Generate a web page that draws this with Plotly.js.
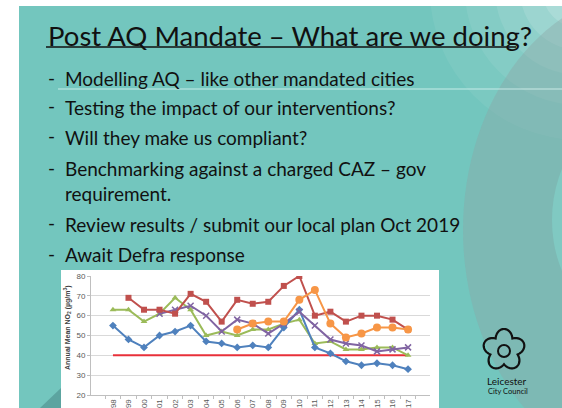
<!DOCTYPE html>
<html><head><meta charset="utf-8">
<script src="https://cdn.plot.ly/plotly-3.0.1.min.js"></script>
<style>html,body{margin:0;padding:0;background:#fff}#chart{width:562px;height:408px}</style>
</head><body><div id="chart"></div>
<script>
const years = ["1998","1999","2000","2001","2002","2003","2004","2005","2006","2007","2008","2009","2010","2011","2012","2013","2014","2015","2016","2017"];
const siteBlue   = [55,48,44,50,52,55,47,46,44,45,44,54,63,44,41,37,35,36,35,33];
const siteRed    = [null,69,63,63,61,71,67,57,68,66,67,75,80,60,62,57,60,60,58,53];
const siteGreen  = [63,63,57,61,69,63,50,52,50,53,53,56,58,46,47,43,43,44,44,40];
const sitePurple = [null,null,null,61,63,65,60,52,58,56,51,56,62,55,48,46,45,42,43,44];
const siteOrange = [null,null,null,null,null,null,null,null,53,56,57,57,68,73,56,49,51,54,54,53];
const limitValue = [40,40,40,40,40,40,40,40,40,40,40,40,40,40,40,40,40,40,40,40];

const titleText = "Post AQ Mandate – What are we doing?";
const bullets = [
  "Modelling AQ – like other mandated cities",
  "Testing the impact of our interventions?",
  "Will they make us compliant?",
  "Benchmarking against a charged CAZ – gov<br>requirement.",
  "Review results / submit our local plan Oct 2019",
  "Await Defra response"
];
const bulletY = [77, 106, 136, 167, 223, 253];

const W = 562, H = 408;
const px = x => x / W;
const py = y => 1 - y / H;

function series(y, color, symbol, size, extra) {
  return Object.assign({
    x: years, y: y, type: "scatter", mode: "lines+markers",
    line: {color: color, width: 2},
    marker: {color: color, symbol: symbol, size: size},
    connectgaps: false, showlegend: false, hoverinfo: "x+y"
  }, extra || {});
}

const traces = [
  {x: years, y: limitValue, type: "scatter", mode: "lines", line: {color: "#e8303a", width: 2}, showlegend: false},
  series(siteGreen, "#9bbb59", "triangle-up", 6),
  series(siteBlue, "#4f81bd", "diamond", 6),
  series(sitePurple, "#8064a2", "x-thin-open", 6, {marker: {color: "#8064a2", symbol: "x-thin-open", size: 6, line: {color: "#8064a2", width: 1.5}}}),
  series(siteRed, "#c0504d", "square", 6),
  series(siteOrange, "#f79646", "circle", 8)
];

// cinquefoil logo path (decoration)
function roseOutline(cx, cy, R) {
  let d = "";
  for (let i = 0; i <= 240; i++) {
    const t = i / 240 * 2 * Math.PI;
    const r = R * (0.68 + 0.32 * Math.abs(Math.cos(2.5 * t)));
    const x = cx + r * Math.sin(t), y = cy - r * Math.cos(t);
    d += (i === 0 ? "M" : "L") + px(x).toFixed(4) + "," + py(y).toFixed(4);
  }
  return d + "Z";
}

function glow(cx, cy, r, a) {
  return {type: "circle", xref: "paper", yref: "paper", x0: px(cx - r), x1: px(cx + r), y0: py(cy + r), y1: py(cy - r), fillcolor: "rgba(255,255,255," + a + ")", line: {width: 0}, layer: "below"};
}

const shapes = [
  // slide background
  {type: "rect", xref: "paper", yref: "paper", x0: px(19), x1: px(562), y0: py(408), y1: py(6), fillcolor: "#73c6be", line: {width: 0}, layer: "below"},
  // soft light glow top right
  glow(580, -10, 150, 0.06),
  glow(580, -10, 115, 0.07),
  glow(580, -10, 85, 0.09),
  glow(580, -10, 60, 0.12),
  glow(580, -10, 38, 0.15),
  // big curved band on right
  {type: "circle", xref: "paper", yref: "paper", x0: px(463), x1: px(837), y0: py(470), y1: py(-10), fillcolor: "rgba(140,165,165,0.40)", line: {width: 0}, layer: "below"},
  {type: "circle", xref: "paper", yref: "paper", x0: px(552), x1: px(728), y0: py(330), y1: py(110), fillcolor: "#80c9c2", line: {width: 0}, layer: "below"},
  // dark diagonal bottom-left
  {type: "path", xref: "paper", yref: "paper", path: "M" + px(40) + "," + py(408) + "L" + px(61) + "," + py(388) + "L" + px(61) + "," + py(408) + "Z", fillcolor: "rgba(70,130,130,0.5)", line: {width: 0}, layer: "below"},
  // top white strip and left white margin
  {type: "rect", xref: "paper", yref: "paper", x0: 0, x1: 1, y0: py(6), y1: 1, fillcolor: "#ffffff", line: {width: 0}, layer: "below"},
  // thin light line under first bullet
  {type: "line", xref: "paper", yref: "paper", x0: px(58), x1: px(562), y0: py(89), y1: py(89), line: {color: "rgba(220,245,242,0.8)", width: 1}, layer: "below"},
  // title underline
  {type: "line", xref: "paper", yref: "paper", x0: px(46), x1: px(516), y0: py(47), y1: py(47), line: {color: "#111", width: 1.5}},
  // white chart box
  {type: "rect", xref: "paper", yref: "paper", x0: px(61), x1: px(439), y0: py(408), y1: py(270), fillcolor: "#ffffff", line: {width: 0}, layer: "below"},
  // logo
  {type: "path", xref: "paper", yref: "paper", path: roseOutline(504, 350, 21), line: {color: "#111", width: 2.2}, fillcolor: "rgba(0,0,0,0)"},
  {type: "circle", xref: "paper", yref: "paper", x0: px(498), x1: px(510), y0: py(357), y1: py(345), line: {color: "#111", width: 2}}
];

const annotations = [
  {xref: "paper", yref: "paper", x: px(46), y: py(35), xanchor: "left", yanchor: "middle", text: titleText, showarrow: false, font: {family: "Lato, 'Open Sans', sans-serif", size: 27.5, color: "#111"}},
  {xref: "paper", yref: "paper", x: px(485), y: py(381), xanchor: "left", yanchor: "middle", text: "Leicester", showarrow: false, font: {family: "Lato, sans-serif", size: 10, color: "#111"}},
  {xref: "paper", yref: "paper", x: px(486), y: py(391), xanchor: "left", yanchor: "middle", text: "City Council", showarrow: false, font: {family: "Lato, sans-serif", size: 7.5, color: "#111"}},
  {xref: "paper", yref: "paper", x: px(67), y: py(328), xanchor: "center", yanchor: "middle", textangle: -90, text: "<b>Annual Mean NO<sub>2</sub> (µg/m<sup>3</sup>)</b>", showarrow: false, font: {family: "Liberation Sans, Arial, sans-serif", size: 7, color: "#404040"}}
];
bullets.forEach((b, i) => {
  const y0 = bulletY[i];
  annotations.push({xref: "paper", yref: "paper", x: px(46), y: py(y0), xanchor: "left", yanchor: "middle", text: "-", showarrow: false, font: {family: "Lato, sans-serif", size: 19, color: "#111"}});
  annotations.push({xref: "paper", yref: "paper", x: px(63), y: py(y0), xanchor: "left", yanchor: "top", yshift: 12, text: b, align: "left", showarrow: false, font: {family: "Lato, sans-serif", size: 19, color: "#111"}});
});

const layout = {
  width: W, height: H,
  margin: {l: 0, r: 0, t: 0, b: 0},
  paper_bgcolor: "#ffffff", plot_bgcolor: "rgba(0,0,0,0)",
  showlegend: false,
  xaxis: {
    domain: [px(91), px(430)], type: "category", tickangle: -90,
    tickfont: {family: "Liberation Sans, Arial, sans-serif", size: 8, color: "#595959"},
    showline: true, linecolor: "#bfbfbf", linewidth: 1,
    ticks: "outside", ticklen: 3, tickcolor: "#bfbfbf", tickson: "boundaries",
    showgrid: false, zeroline: false, fixedrange: true
  },
  yaxis: {
    domain: [py(395), py(276)], range: [20, 80], dtick: 10,
    tickfont: {family: "Liberation Sans, Arial, sans-serif", size: 8, color: "#595959"},
    showline: true, linecolor: "#bfbfbf", linewidth: 1,
    ticks: "outside", ticklen: 3, tickcolor: "#bfbfbf",
    showgrid: true, gridcolor: "#d9d9d9", gridwidth: 1, zeroline: false, fixedrange: true
  },
  shapes: shapes,
  annotations: annotations
};

Plotly.newPlot("chart", traces, layout, {displayModeBar: false, staticPlot: true});
</script>
</body></html>
